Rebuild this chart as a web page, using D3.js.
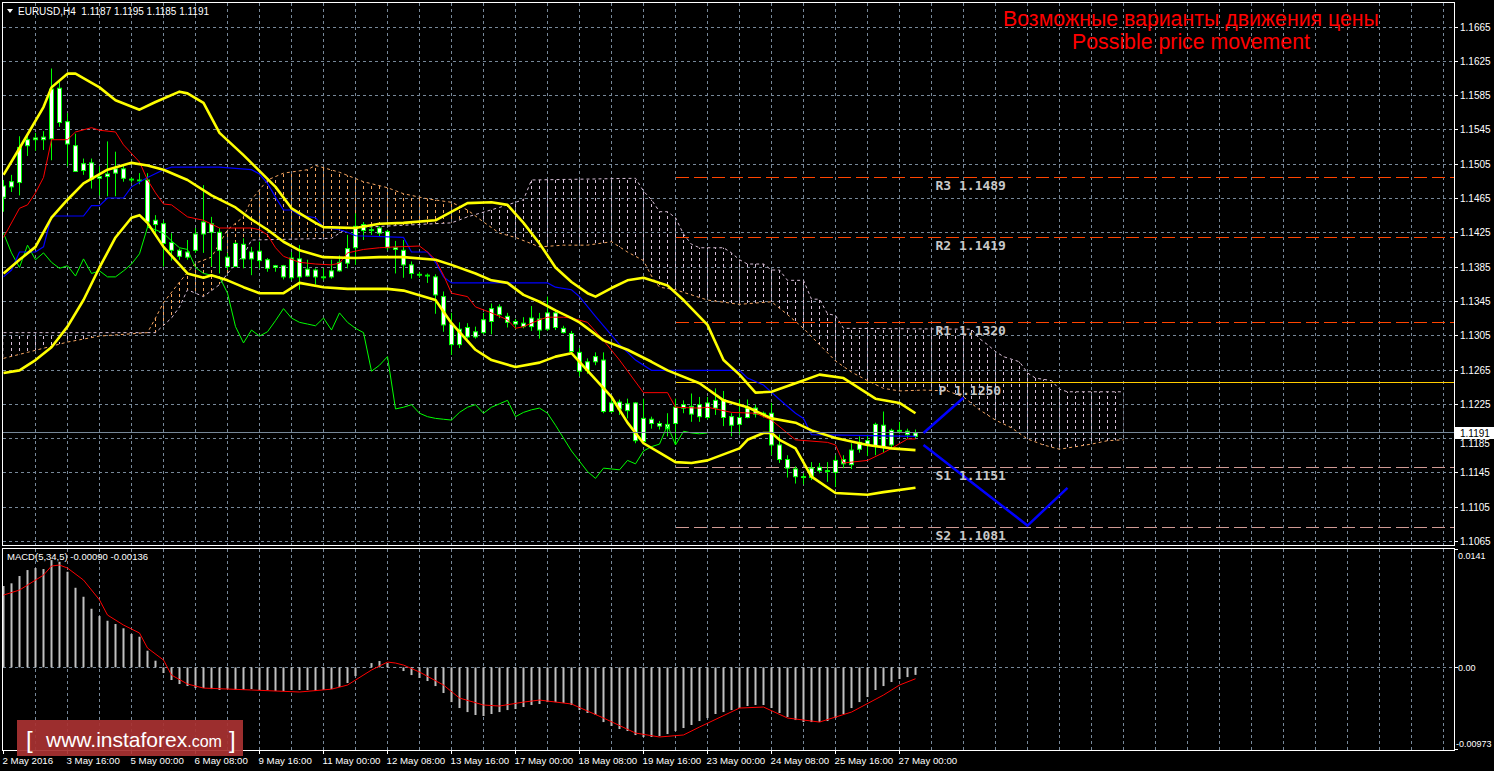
<!DOCTYPE html>
<html><head><meta charset="utf-8">
<script src="https://cdn.jsdelivr.net/npm/d3@7"></script>
<style>html,body{margin:0;padding:0;background:#000;overflow:hidden}text{white-space:pre}</style>
</head><body><svg id="c" width="1494" height="771"></svg>
<script>
// ---------- DATA ----------
const symbolHeader = "EURUSD,H4  1.1187 1.1195 1.1185 1.1191";
const macdHeader = "MACD(5,34,5) -0.00090 -0.00136";
const titleLines = ["Возможные варианты движения цены", "Possible price movement"];
const timeLabels = ["2 May 2016","3 May 16:00","5 May 00:00","6 May 08:00","9 May 16:00","11 May 00:00","12 May 08:00","13 May 16:00","17 May 00:00","18 May 08:00","19 May 16:00","23 May 00:00","24 May 08:00","25 May 16:00","27 May 00:00"];
const timeLabelBars = [0,8,16,24,32,40,48,56,64,72,80,88,96,104,112];
const priceTicks = [1.1065,1.1105,1.1145,1.1185,1.1225,1.1265,1.1305,1.1345,1.1385,1.1425,1.1465,1.1505,1.1545,1.1585,1.1625,1.1665];
const macdTicks = [0.0141, 0, -0.00973];
const macdTickLabels = ["0.0141","0.00","-0.00973"];
const lastPrice = 1.1191;

const opens = [1.1466,1.1478,1.1483,1.1526,1.1533,1.1533,1.1534,1.1593,1.1554,1.1526,1.1497,1.1506,1.1488,1.1490,1.1494,1.1499,1.1487,1.1486,1.1486,1.1434,1.1435,1.1413,1.1404,1.1396,1.1404,1.1423,1.1435,1.1425,1.1396,1.1385,1.1411,1.1394,1.1403,1.1393,1.1384,1.1386,1.1372,1.1394,1.1374,1.1381,1.1373,1.1373,1.1380,1.1389,1.1407,1.1434,1.1427,1.1430,1.1426,1.1407,1.1404,1.1387,1.1376,1.1375,1.1373,1.1350,1.1318,1.1294,1.1314,1.1303,1.1308,1.1321,1.1338,1.1327,1.1321,1.1319,1.1315,1.1324,1.1312,1.1331,1.1308,1.1307,1.1285,1.1264,1.1274,1.1276,1.1216,1.1219,1.1225,1.1226,1.1181,1.1207,1.1202,1.1196,1.1202,1.1220,1.1222,1.1210,1.1226,1.1220,1.1230,1.1210,1.1201,1.1209,1.1220,1.1213,1.1214,1.1177,1.1160,1.1149,1.1140,1.1139,1.1147,1.1147,1.1145,1.1160,1.1154,1.1172,1.1178,1.1176,1.1200,1.1177,1.1194,1.1193,1.1187];
const highs = [1.1486,1.1492,1.1537,1.1540,1.1541,1.1543,1.1616,1.1601,1.1564,1.1540,1.1511,1.1511,1.1502,1.1531,1.1519,1.1504,1.1489,1.1494,1.1494,1.1445,1.1439,1.1424,1.1406,1.1416,1.1430,1.1480,1.1443,1.1430,1.1401,1.1414,1.1418,1.1408,1.1414,1.1395,1.1387,1.1387,1.1402,1.1410,1.1393,1.1383,1.1383,1.1393,1.1398,1.1422,1.1447,1.1437,1.1431,1.1432,1.1428,1.1415,1.1416,1.1391,1.1379,1.1377,1.1376,1.1356,1.1331,1.1320,1.1319,1.1315,1.1331,1.1342,1.1341,1.1331,1.1324,1.1326,1.1339,1.1331,1.1350,1.1334,1.1316,1.1310,1.1290,1.1278,1.1285,1.1285,1.1233,1.1230,1.1231,1.1227,1.1231,1.1210,1.1205,1.1214,1.1231,1.1229,1.1237,1.1233,1.1233,1.1243,1.1240,1.1214,1.1230,1.1230,1.1224,1.1216,1.1226,1.1189,1.1165,1.1152,1.1144,1.1157,1.1156,1.1157,1.1165,1.1165,1.1179,1.1187,1.1189,1.1203,1.1216,1.1196,1.1204,1.1196,1.1195];
const lows = [1.1449,1.1472,1.1468,1.1514,1.1520,1.1521,1.1509,1.1548,1.1502,1.1496,1.1492,1.1476,1.1468,1.1467,1.1467,1.1484,1.1483,1.1481,1.1431,1.1420,1.1385,1.1392,1.1393,1.1393,1.1401,1.1401,1.1385,1.1377,1.1381,1.1385,1.1383,1.1375,1.1383,1.1379,1.1379,1.1370,1.1369,1.1358,1.1373,1.1364,1.1369,1.1371,1.1379,1.1383,1.1387,1.1416,1.1422,1.1420,1.1404,1.1377,1.1372,1.1371,1.1372,1.1366,1.1330,1.1309,1.1282,1.1290,1.1301,1.1301,1.1306,1.1306,1.1325,1.1314,1.1312,1.1313,1.1310,1.1301,1.1310,1.1311,1.1307,1.1283,1.1257,1.1260,1.1270,1.1214,1.1214,1.1212,1.1208,1.1179,1.1179,1.1196,1.1195,1.1187,1.1177,1.1214,1.1204,1.1204,1.1207,1.1212,1.1199,1.1187,1.1189,1.1208,1.1209,1.1209,1.1165,1.1156,1.1139,1.1132,1.1131,1.1136,1.1144,1.1134,1.1128,1.1150,1.1149,1.1168,1.1164,1.1165,1.1168,1.1174,1.1190,1.1184,1.1185];
const closes = [1.1479,1.1484,1.1524,1.1533,1.1535,1.1536,1.1592,1.1553,1.1528,1.1496,1.1505,1.1487,1.1490,1.1493,1.1499,1.1488,1.1486,1.1485,1.1437,1.1439,1.1412,1.1404,1.1397,1.1402,1.1423,1.1437,1.1425,1.1404,1.1385,1.1412,1.1394,1.1402,1.1392,1.1383,1.1386,1.1373,1.1395,1.1373,1.1382,1.1373,1.1372,1.1380,1.1390,1.1406,1.1432,1.1427,1.1428,1.1424,1.1407,1.1405,1.1387,1.1377,1.1375,1.1374,1.1352,1.1317,1.1294,1.1312,1.1303,1.1309,1.1323,1.1336,1.1329,1.1320,1.1318,1.1315,1.1325,1.1311,1.1331,1.1314,1.1313,1.1286,1.1263,1.1274,1.1280,1.1216,1.1226,1.1227,1.1217,1.1182,1.1208,1.1202,1.1199,1.1201,1.1221,1.1224,1.1213,1.1224,1.1209,1.1229,1.1209,1.1200,1.1209,1.1220,1.1213,1.1214,1.1177,1.1160,1.1150,1.1140,1.1139,1.1150,1.1151,1.1146,1.1159,1.1155,1.1171,1.1180,1.1182,1.1201,1.1175,1.1194,1.1193,1.1189,1.1191];

// Bollinger bands [bar, price]
const bbUpper = [[0,1.1492],[2,1.1523],[5,1.1571],[6,1.1594],[8,1.1610],[9,1.1610],[12,1.1594],[14,1.1579],[17,1.1568],[19,1.1577],[22,1.1589],[23,1.1587],[25,1.1576],[27,1.1541],[30,1.1515],[34,1.1478],[36,1.1453],[39,1.1436],[40,1.1431],[44,1.1430],[47,1.1435],[50,1.1436],[54,1.1439],[58,1.1459],[61,1.1460],[63,1.1457],[65,1.1436],[67,1.1412],[69,1.1384],[71,1.1367],[73,1.1354],[74,1.1350],[76,1.1360],[78,1.1369],[80,1.1372],[83,1.1363],[85,1.1346],[88,1.1317],[90,1.1276],[92,1.1259],[94,1.1238],[96,1.1239],[99,1.1249],[102,1.1259],[105,1.1255],[109,1.1231],[112,1.1226],[114,1.1214]];
const bbMiddle = [[0,1.1377],[2,1.1393],[4,1.1408],[6,1.1442],[8,1.1463],[10,1.1482],[13,1.1498],[16,1.1506],[18,1.1503],[20,1.1498],[23,1.1486],[26,1.1468],[29,1.1454],[31,1.1440],[33,1.1428],[35,1.1414],[37,1.1404],[40,1.1396],[44,1.1395],[47,1.1396],[50,1.1396],[54,1.1393],[56,1.1387],[59,1.1377],[61,1.1369],[63,1.1366],[65,1.1352],[67,1.1344],[69,1.1334],[71,1.1325],[72,1.1320],[75,1.1299],[78,1.1288],[81,1.1274],[83,1.1264],[87,1.1249],[90,1.1229],[93,1.1221],[96,1.1208],[99,1.1203],[101,1.1194],[104,1.1185],[108,1.1177],[111,1.1173],[114,1.1171]];
const bbLower = [[0,1.1261],[2,1.1264],[4,1.1276],[6,1.1291],[8,1.1315],[10,1.1346],[12,1.1384],[14,1.1419],[16,1.1442],[17,1.1445],[18,1.1436],[20,1.1408],[23,1.1377],[25,1.1372],[26,1.1375],[28,1.1369],[30,1.1361],[32,1.1354],[35,1.1354],[37,1.1366],[40,1.1361],[43,1.1359],[48,1.1359],[50,1.1357],[54,1.1346],[56,1.1319],[59,1.1288],[61,1.1276],[64,1.1268],[67,1.1273],[69,1.1280],[71,1.1284],[72,1.1274],[76,1.1233],[78,1.1203],[80,1.1179],[82,1.1168],[84,1.1157],[86,1.1156],[88,1.1159],[92,1.1173],[93,1.1183],[95,1.1191],[96,1.1191],[97,1.1183],[99,1.1173],[101,1.1140],[104,1.1121],[108,1.1119],[110,1.1122],[114,1.1127]];

// Ichimoku [bar, price]
const tenkan = [[0,1.1419],[2,1.1453],[3,1.1457],[4,1.1471],[5,1.1489],[6,1.1533],[8,1.1533],[9,1.1542],[11,1.1547],[12,1.1544],[14,1.1542],[15,1.1527],[17,1.1507],[18,1.1486],[19,1.1471],[20,1.1458],[21,1.1457],[23,1.1443],[25,1.1439],[27,1.1430],[31,1.1430],[32,1.1428],[33,1.1422],[34,1.1407],[35,1.1397],[37,1.1390],[39,1.1388],[41,1.1387],[42,1.1389],[43,1.1401],[45,1.1405],[47,1.1407],[49,1.1408],[52,1.1409],[53,1.1402],[54,1.1393],[55,1.1375],[56,1.1354],[58,1.1350],[59,1.1338],[61,1.1331],[63,1.1323],[64,1.1313],[65,1.1315],[67,1.1323],[68,1.1326],[70,1.1326],[71,1.1325],[73,1.1320],[75,1.1299],[77,1.1276],[80,1.1238],[83,1.1238],[84,1.1221],[87,1.1220],[88,1.1221],[91,1.1215],[94,1.1214],[96,1.1206],[99,1.1183],[103,1.1180],[104,1.1177],[105,1.1156],[106,1.1157],[108,1.1159],[110,1.1168],[111,1.1173],[113,1.1184],[114,1.1184]];
const kijun = [[0,1.1373],[1,1.1381],[2,1.1402],[4,1.1402],[5,1.1408],[6,1.1444],[10,1.1444],[11,1.1456],[12,1.1456],[13,1.1465],[15,1.1465],[16,1.1478],[18,1.1489],[20,1.1498],[21,1.1501],[27,1.1501],[31,1.1498],[32,1.1493],[33,1.1482],[34,1.1466],[35,1.1451],[36,1.1451],[37,1.1445],[39,1.1442],[40,1.1431],[42,1.1428],[43,1.1425],[44,1.1421],[50,1.1419],[51,1.1402],[53,1.1402],[54,1.1390],[55,1.1373],[56,1.1366],[68,1.1366],[69,1.1361],[71,1.1358],[72,1.1350],[74,1.1327],[77,1.1294],[79,1.1276],[81,1.1264],[92,1.1264],[93,1.1255],[95,1.1247],[97,1.1230],[99,1.1214],[100,1.1208],[101,1.1189],[114,1.1187]];
const chikou = [[0,1.1424],[1,1.1401],[2,1.1384],[3,1.1410],[4,1.1393],[5,1.1401],[6,1.1390],[7,1.1383],[8,1.1386],[9,1.1374],[10,1.1394],[11,1.1377],[12,1.1380],[13,1.1373],[14,1.1373],[15,1.1380],[16,1.1388],[17,1.1400],[18,1.1431],[19,1.1428],[20,1.1424],[21,1.1415],[22,1.1407],[23,1.1405],[24,1.1384],[25,1.1377],[26,1.1375],[27,1.1373],[28,1.1354],[29,1.1315],[30,1.1296],[31,1.1311],[32,1.1304],[33,1.1309],[34,1.1322],[35,1.1336],[36,1.1325],[37,1.1320],[38,1.1318],[39,1.1316],[40,1.1325],[41,1.1311],[42,1.1331],[43,1.1320],[44,1.1313],[45,1.1308],[46,1.1263],[47,1.1270],[48,1.1280],[49,1.1219],[50,1.1221],[51,1.1224],[52,1.1214],[53,1.1210],[54,1.1208],[55,1.1207],[56,1.1206],[57,1.1215],[58,1.1221],[59,1.1224],[60,1.1214],[61,1.1221],[62,1.1225],[63,1.1229],[64,1.1210],[65,1.1215],[66,1.1218],[67,1.1220],[68,1.1214],[69,1.1200],[70,1.1185],[71,1.1170],[72,1.1158],[73,1.1146],[74,1.1138],[75,1.1150],[76,1.1149],[77,1.1148],[78,1.1159],[79,1.1155],[80,1.1170],[81,1.1175],[82,1.1178],[83,1.1200],[84,1.1177],[85,1.1193],[86,1.1191],[87,1.1190],[88,1.1191]];
const spanA = [[0,1.1278],[3,1.1285],[8,1.1297],[12,1.1304],[18,1.1308],[19,1.1325],[20,1.1343],[22,1.1367],[24,1.1389],[26,1.1396],[28,1.1428],[30,1.1443],[31,1.1463],[33,1.1486],[35,1.1494],[38,1.1498],[39,1.1503],[42,1.1495],[45,1.1484],[48,1.1477],[50,1.1470],[53,1.1464],[56,1.1460],[58,1.1451],[60,1.1437],[62,1.1424],[64,1.1419],[67,1.1408],[70,1.1410],[73,1.1410],[76,1.1414],[78,1.1402],[80,1.1392],[81,1.1374],[82,1.1361],[84,1.1358],[88,1.1346],[92,1.1341],[96,1.1344],[98,1.1329],[100,1.1313],[102,1.1294],[104,1.1275],[106,1.1262],[108,1.1252],[110,1.1243],[112,1.1240],[115,1.1241],[118,1.1240],[120,1.1233],[122,1.1218],[124,1.1206],[126,1.1197],[128,1.1184],[130,1.1177],[132,1.1172],[134,1.1175],[136,1.1178],[138,1.1182],[140,1.1183]];
const spanB = [[0,1.1308],[19,1.1308],[21,1.1325],[22,1.1338],[23,1.1358],[25,1.1350],[27,1.1364],[28,1.1377],[30,1.1398],[31,1.1416],[41,1.1418],[43,1.1430],[56,1.1436],[58,1.1443],[62,1.1454],[65,1.1463],[66,1.1486],[79,1.1488],[80,1.1473],[81,1.1463],[82,1.1449],[83,1.1449],[84,1.1442],[85,1.1423],[86,1.1411],[87,1.1407],[90,1.1407],[91,1.1401],[92,1.1393],[93,1.1388],[95,1.1388],[96,1.1381],[97,1.1381],[98,1.1369],[100,1.1369],[101,1.1347],[102,1.1347],[103,1.1330],[104,1.1328],[105,1.1313],[121,1.1312],[122,1.1301],[123,1.1294],[124,1.1286],[125,1.1280],[127,1.1274],[128,1.1261],[129,1.1255],[131,1.1252],[132,1.1242],[133,1.1239],[140,1.1239]];

// MACD
const macdHist = [0.00969,0.01001,0.01088,0.01159,0.01183,0.01171,0.01278,0.01258,0.01139,0.00948,
 0.00841,0.00698,0.00611,0.00555,0.00516,0.00465,0.00397,0.00365,0.00198,0.00079,
 -0.00068,-0.00151,-0.00199,-0.00223,-0.00247,-0.00247,-0.00259,-0.00270,-0.00259,-0.00270,
 -0.00270,-0.00259,-0.00270,-0.00270,-0.00282,-0.00282,-0.00270,-0.00270,-0.00270,-0.00282,
 -0.00270,-0.00259,-0.00235,-0.00187,-0.00104,-0.00008,0.00051,0.00075,0.00051,0.00004,
 -0.00044,-0.00092,-0.00127,-0.00163,-0.00223,-0.00306,-0.00414,-0.00485,-0.00533,-0.00568,
 -0.00580,-0.00556,-0.00533,-0.00509,-0.00497,-0.00473,-0.00449,-0.00437,-0.00414,-0.00414,
 -0.00425,-0.00449,-0.00509,-0.00544,-0.00568,-0.00652,-0.00699,-0.00735,-0.00759,-0.00807,
 -0.00830,-0.00830,-0.00819,-0.00795,-0.00759,-0.00723,-0.00687,-0.00640,-0.00604,-0.00556,
 -0.00533,-0.00509,-0.00485,-0.00461,-0.00449,-0.00449,-0.00485,-0.00544,-0.00592,-0.00628,
 -0.00652,-0.00652,-0.00652,-0.00640,-0.00604,-0.00556,-0.00485,-0.00414,-0.00354,-0.00270,
 -0.00223,-0.00175,-0.00139,-0.00116,-0.00090];
const macdSignal = [[0,0.00861],[2,0.00921],[4,0.01040],[5,0.01099],[6,0.01207],[7,0.01219],[8,0.01183],[10,0.01040],[12,0.00803],[13,0.00623],[15,0.00504],[17,0.00409],[18,0.00230],[20,0.00087],[21,-0.00092],[23,-0.00199],[25,-0.00247],[31,-0.00270],[37,-0.00294],[41,-0.00260],[43,-0.00211],[44,-0.00151],[46,-0.00032],[48,0.00063],[49,0.00051],[50,0.00027],[52,-0.00056],[55,-0.00211],[57,-0.00366],[60,-0.00449],[62,-0.00461],[65,-0.00414],[67,-0.00390],[71,-0.00437],[75,-0.00604],[79,-0.00783],[82,-0.00830],[85,-0.00806],[87,-0.00711],[92,-0.00485],[95,-0.00473],[98,-0.00604],[102,-0.00652],[106,-0.00533],[110,-0.00330],[112,-0.00211],[114,-0.00136]];

// Pivot levels
const pivotNames = ["R3","R2","R1","P","S1","S2"];
const pivotLevels = [1.1489,1.1419,1.1320,1.1250,1.1151,1.1081];
const pivotStartBar = 84;
const pivotLabelBar = 116.5;

// Projected paths [bar, price]
const projUp = [[115,1.1191],[120,1.1232]];
const projDown = [[115,1.1177],[128,1.1083],[133,1.1127]];

// ---------- DRAW ----------
const svg = d3.select('#c');
const defs = svg.append('defs');
const FONT = "'Liberation Sans', Arial, sans-serif";
const PR = 1454;

const x = d3.scaleLinear().domain([0,140]).range([3.5,1123.5]);
const y = d3.scaleLinear().domain([1.1065,1.1665]).range([541,26.5]);
const ym = d3.scaleLinear().domain([-0.00973,0.0141]).range([749,549]);

svg.append('rect').attr('width',1494).attr('height',771).attr('fill','#000');

defs.append('clipPath').attr('id','cm').append('rect').attr('x',3).attr('y',3).attr('width',PR-3).attr('height',542);
defs.append('clipPath').attr('id','cs').append('rect').attr('x',3).attr('y',549).attr('width',PR-3).attr('height',201);

function hatch(id,color){
  const p = defs.append('pattern').attr('id',id).attr('patternUnits','userSpaceOnUse')
    .attr('x',3).attr('y',0).attr('width',8).attr('height',6);
  p.append('rect').attr('x',0).attr('y',0).attr('width',1).attr('height',3).attr('fill',color);
}
hatch('hs','#F4A460');
hatch('ht','#D8BFD8');

const bPts = spanB.map(d=>[x(d[0]),y(d[1])]);
const aPts = spanA.map(d=>[x(d[0]),y(d[1])]);
const bLine = bPts.map(p=>p.join(',')).join('L');
defs.append('clipPath').attr('id','aboveB').append('path')
  .attr('d','M'+bLine+`L${x(140)},0L${x(0)},0Z`);
defs.append('clipPath').attr('id','belowB').append('path')
  .attr('d','M'+bLine+`L${x(140)},771L${x(0)},771Z`);

// Grid
const grid = svg.append('g').attr('stroke','#778899').attr('stroke-dasharray','3,3').attr('shape-rendering','crispEdges');
d3.range(4,181,4).forEach(i=>{
  const xx = x(i);
  if (xx >= PR) return;
  grid.append('line').attr('x1',xx).attr('x2',xx).attr('y1',3).attr('y2',545);
  grid.append('line').attr('x1',xx).attr('x2',xx).attr('y1',549).attr('y2',750);
});
priceTicks.forEach(p=>{
  const yy = Math.round(y(p))+0.5;
  grid.append('line').attr('x1',3).attr('x2',PR).attr('y1',yy).attr('y2',yy);
});
{
  const yy = Math.round(ym(0))+0.5;
  grid.append('line').attr('x1',3).attr('x2',PR).attr('y1',yy).attr('y2',yy);
}

const main = svg.append('g').attr('clip-path','url(#cm)');
const line = d3.line().x(d=>x(d[0])).y(d=>y(d[1]));

// Cloud
const cloudPath = d3.line()(aPts.concat(bPts.slice().reverse()))+'Z';
main.append('g').attr('clip-path','url(#aboveB)').append('path').attr('d',cloudPath).attr('fill','url(#hs)');
main.append('g').attr('clip-path','url(#belowB)').append('path').attr('d',cloudPath).attr('fill','url(#ht)');
main.append('path').attr('d',line(spanA)).attr('fill','none').attr('stroke','#F4A460').attr('stroke-dasharray','3,3');
main.append('path').attr('d',line(spanB)).attr('fill','none').attr('stroke','#D8BFD8').attr('stroke-dasharray','3,3');

// Pivot lines
const pivotColors = ['#FF4500','#FF4500','#FF4500','#FFCC00','#D09A94','#D09A94'];
pivotLevels.forEach((lv,k)=>{
  const yy = Math.round(y(lv))+0.5;
  main.append('line').attr('x1',x(pivotStartBar)).attr('x2',PR).attr('y1',yy).attr('y2',yy)
    .attr('stroke',pivotColors[k]).attr('stroke-width',1)
    .attr('stroke-dasharray', pivotNames[k]==='P' ? null : '13,5')
    .attr('shape-rendering','crispEdges');
});

// Candles
const candles = d3.range(opens.length).map(i=>({i,o:opens[i],h:highs[i],l:lows[i],c:closes[i]}));
const cg = main.append('g');
cg.selectAll('line.w').data(candles).join('line').attr('class','w')
  .attr('x1',d=>x(d.i)).attr('x2',d=>x(d.i)).attr('y1',d=>y(d.h)).attr('y2',d=>y(d.l))
  .attr('stroke','#00FF00').attr('stroke-width',1);
cg.selectAll('rect').data(candles).join('rect')
  .attr('x',d=>x(d.i)-2).attr('width',4)
  .attr('y',d=>y(Math.max(d.o,d.c)))
  .attr('height',d=>Math.max(0.5, Math.abs(y(d.o)-y(d.c))))
  .attr('fill','#FFFFFF').attr('stroke','#00FF00').attr('stroke-width',1);

// Indicator lines
main.append('path').attr('d',line(chikou)).attr('fill','none').attr('stroke','#00FF00').attr('stroke-width',1);
main.append('path').attr('d',line(kijun)).attr('fill','none').attr('stroke','#0000FF').attr('stroke-width',1.2);
main.append('path').attr('d',line(tenkan)).attr('fill','none').attr('stroke','#FF0000').attr('stroke-width',1);
[bbUpper,bbMiddle,bbLower].forEach(s=>{
  main.append('path').attr('d',line(s)).attr('fill','none').attr('stroke','#FFFF00').attr('stroke-width',2.6).attr('stroke-linejoin','round');
});

// Current price line
{
  const yy = Math.round(y(lastPrice))-0.5;
  main.append('line').attr('x1',3).attr('x2',PR).attr('y1',yy).attr('y2',yy).attr('stroke','#778899').attr('shape-rendering','crispEdges');
}

// Projections
[projUp,projDown].forEach(s=>{
  main.append('path').attr('d',line(s)).attr('fill','none').attr('stroke','#0000FF').attr('stroke-width',2.5);
});

// Pivot labels
pivotLevels.forEach((lv,k)=>{
  const txt = pivotNames[k] + ' ' + lv.toFixed(4);
  main.append('text').attr('x', pivotNames[k]==='P' ? x(pivotLabelBar)+3 : x(pivotLabelBar))
    .attr('y', y(lv)+12.5).text(txt)
    .attr('font-family',"'DejaVu Sans Mono', monospace").attr('font-size',13).attr('font-weight','bold')
    .attr('fill','#C8C8C8');
});

// MACD panel
const sub = svg.append('g').attr('clip-path','url(#cs)');
const z = ym(0);
sub.selectAll('rect').data(macdHist).join('rect')
  .attr('x',(d,i)=>x(i)-1).attr('width',2)
  .attr('y',d=>Math.min(ym(d),z)).attr('height',d=>Math.abs(ym(d)-z))
  .attr('fill','#C0C0C0');
sub.append('path').attr('d',d3.line().x(d=>x(d[0])).y(d=>ym(d[1]))(macdSignal))
  .attr('fill','none').attr('stroke','#FF0000').attr('stroke-width',1);

// Borders
const border = svg.append('g').attr('fill','none').attr('stroke','#FFFFFF').attr('shape-rendering','crispEdges');
border.append('rect').attr('x',2.5).attr('y',2.5).attr('width',PR-2).attr('height',543);
border.append('rect').attr('x',2.5).attr('y',548.5).attr('width',PR-2).attr('height',202);

// Price axis
const ax = svg.append('g').attr('font-family',FONT).attr('font-size',10).attr('fill','#FFFFFF');
const boxY = Math.round(y(lastPrice));
priceTicks.forEach(p=>{
  const yy = Math.round(y(p))+0.5;
  ax.append('line').attr('x1',PR).attr('x2',PR+4).attr('y1',yy).attr('y2',yy).attr('stroke','#FFFFFF').attr('shape-rendering','crispEdges');
  // keep a label that would sit under the current-price box just below it
  const ty = Math.abs(yy - boxY) < 12 ? boxY + 13.5 : yy + 3.5;
  ax.append('text').attr('x',PR+6).attr('y',ty).text(p.toFixed(4));
});
// current price box
ax.append('rect').attr('x',PR+1).attr('y',boxY-6).attr('width',39).attr('height',12).attr('fill','#FFFFFF');
ax.append('text').attr('x',PR+6).attr('y',boxY+3.5).attr('fill','#000').text(lastPrice.toFixed(4));
// MACD axis
macdTicks.forEach((v,k)=>{
  const yy = Math.round(ym(v))+0.5;
  ax.append('line').attr('x1',PR).attr('x2',PR+4).attr('y1',yy).attr('y2',yy).attr('stroke','#FFFFFF').attr('shape-rendering','crispEdges');
  const ty = Math.max(555, Math.min(743, yy));
  ax.append('text').attr('x', v<0 ? PR+2 : PR+4).attr('y',ty+3.5).attr('font-size',9).text(macdTickLabels[k]);
});

// Logo (behind time labels)
const logo = svg.append('g');
logo.append('rect').attr('x',17).attr('y',720).attr('width',226).attr('height',36).attr('fill','#A83232').attr('opacity',0.93);
logo.append('text').attr('x',26).attr('y',748).attr('font-family',FONT).attr('font-size',24).attr('fill','#FFFFFF').text('[');
const lt = logo.append('text').attr('x',46).attr('y',747).attr('font-family',FONT).attr('fill','#FFFFFF');
lt.append('tspan').attr('font-size',21).text('www.instaforex');
lt.append('tspan').attr('font-size',16).text('.com');
logo.append('text').attr('x',229).attr('y',748).attr('font-family',FONT).attr('font-size',24).attr('fill','#FFFFFF').text(']');

// Time axis
timeLabelBars.forEach((b,k)=>{
  const xx = x(b);
  ax.append('line').attr('x1',xx).attr('x2',xx).attr('y1',750).attr('y2',754).attr('stroke','#FFFFFF').attr('shape-rendering','crispEdges');
  ax.append('text').attr('x',xx-1).attr('y',763.5).attr('font-size',9.7).text(timeLabels[k]);
});

// Headers
svg.append('path').attr('d','M7,9L13,9L10,13Z').attr('fill','#FFFFFF');
svg.append('text').attr('x',18).attr('y',15).attr('font-family',FONT).attr('font-size',10).attr('fill','#FFFFFF').text(symbolHeader);
svg.append('text').attr('x',7).attr('y',559.5).attr('font-family',FONT).attr('font-size',9.5).attr('fill','#FFFFFF').text(macdHeader);

// Title
titleLines.forEach((t,k)=>{
  svg.append('text').attr('x',1191).attr('y',26+k*23).attr('text-anchor','middle')
    .attr('font-family',FONT).attr('font-size',21.3).attr('fill','#FF0000').text(t);
});
</script>
</body></html>
